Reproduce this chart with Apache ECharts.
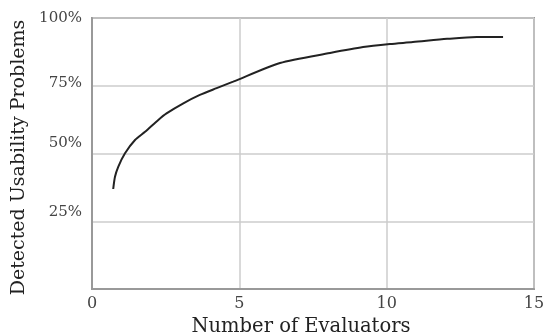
<!DOCTYPE html>
<html>
<head>
<meta charset="utf-8">
<script src="https://cdn.jsdelivr.net/npm/echarts@6/dist/echarts.min.js"></script>
<style>html,body{margin:0;padding:0;background:#fff}#c{width:549px;height:334px}</style>
</head>
<body>
<div id="c"></div>
<script>
var evaluators = [0.72, 0.78, 0.89, 1.12, 1.46, 1.80, 2.25, 2.53, 3.10, 3.66, 4.23, 4.79, 6.38, 8.08, 9.20, 10.11, 10.89, 12.05, 13.06, 13.95];
var detected = [36.9, 41.4, 45.1, 50.1, 55.0, 58.0, 62.4, 64.8, 68.5, 71.6, 74.1, 76.5, 83.4, 87.1, 89.3, 90.4, 91.1, 92.3, 93.0, 93.0];
var xTicks = [0, 5, 10, 15];
var yTicks = [25, 50, 75, 100];

var serif = '"DejaVu Serif", "Liberation Serif", serif';
var chart = echarts.init(document.getElementById('c'));
chart.setOption({
  animation: false,
  grid: { left: 92, right: 15, top: 18, bottom: 45, show: true, borderColor: '#999', borderWidth: 2, outerBoundsMode: 'none', containLabel: false },
  xAxis: {
    type: 'value', min: 0, max: 15, interval: 5,
    name: 'Number of Evaluators', nameLocation: 'middle', nameGap: 26,
    nameTextStyle: { fontFamily: serif, fontSize: 19.5, color: '#222', padding: [0, 24, 0, 0] },
    axisLine: { show: true, lineStyle: { color: '#999', width: 2 } },
    axisTick: { show: false },
    axisLabel: { fontFamily: serif, fontSize: 16, color: '#444', margin: 7,
      formatter: function (v) { return xTicks.indexOf(v) >= 0 ? String(v) : ''; } },
    splitLine: { show: true, lineStyle: { color: '#ccc', width: 1.5 } }
  },
  yAxis: {
    type: 'value', min: 0, max: 100, interval: 25,
    name: 'Detected Usability Problems', nameLocation: 'middle', nameGap: 60,
    nameTextStyle: { fontFamily: serif, fontSize: 19, color: '#222', padding: [0, 8, 0, 0] },
    axisLine: { show: true, lineStyle: { color: '#999', width: 2 } },
    axisTick: { show: false },
    axisLabel: {
      fontFamily: serif, fontSize: 15, color: '#444', margin: 10,
      formatter: function (v) {
        if (yTicks.indexOf(v) < 0) return '';
        return '{l' + v + '|' + v + '%}';
      },
      rich: {
        l25: { fontFamily: serif, fontSize: 15, color: '#444', padding: [0, 0, 18, 0] },
        l50: { fontFamily: serif, fontSize: 15, color: '#444', padding: [0, 0, 20, 0] },
        l75: { fontFamily: serif, fontSize: 15, color: '#444', padding: [0, 0, 6, 0] },
        l100: { fontFamily: serif, fontSize: 15, color: '#444', padding: [0, 0, 0, 0] }
      }
    },
    splitLine: { show: true, lineStyle: { color: '#ccc', width: 1.5 } }
  },
  series: [{
    type: 'line',
    data: evaluators.map(function (x, i) { return [x, detected[i]]; }),
    smooth: 0.25,
    showSymbol: false,
    lineStyle: { color: '#222', width: 2 }
  }]
});
</script>
</body>
</html>
